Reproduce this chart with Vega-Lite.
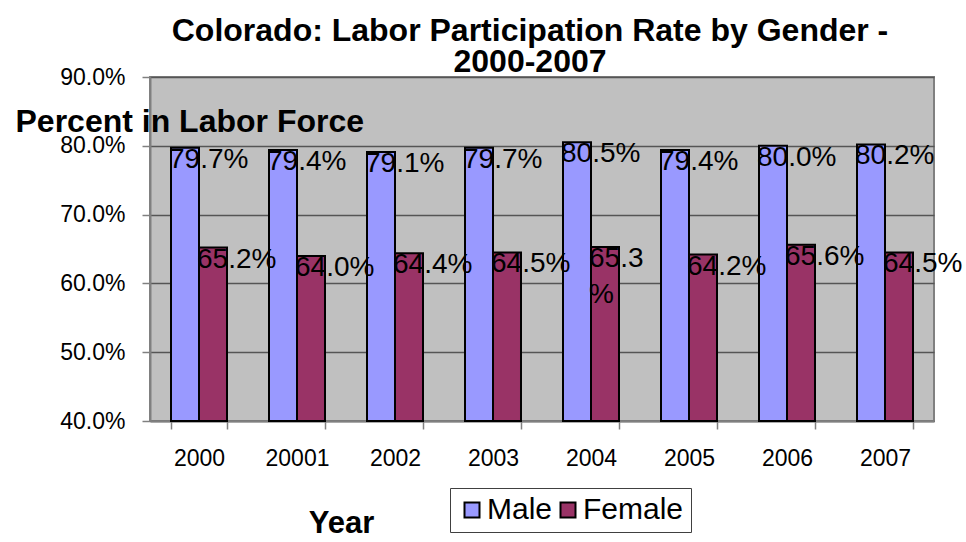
{
  "$schema": "https://vega.github.io/schema/vega-lite/v6.json",
  "autosize": {"type": "none"},
  "width": 784,
  "height": 344,
  "padding": {"left": 150, "top": 77, "right": 32, "bottom": 121},
  "background": "white",
  "title": {
    "text": ["Colorado:  Labor Participation Rate by Gender -", "2000-2007"],
    "font": "Liberation Sans",
    "fontSize": 32,
    "fontWeight": "bold",
    "color": "black",
    "anchor": "middle",
    "frame": "group",
    "dx": -12,
    "dy": 17,
    "offset": 4,
    "lineHeight": 31
  },
  "data": {
    "values": [
      {"year": "2000", "gender": "Male", "value": 0.797, "label": "79.7%"},
      {"year": "2000", "gender": "Female", "value": 0.652, "label": "65.2%"},
      {"year": "20001", "gender": "Male", "value": 0.794, "label": "79.4%"},
      {"year": "20001", "gender": "Female", "value": 0.640, "label": "64.0%"},
      {"year": "2002", "gender": "Male", "value": 0.791, "label": "79.1%"},
      {"year": "2002", "gender": "Female", "value": 0.644, "label": "64.4%"},
      {"year": "2003", "gender": "Male", "value": 0.797, "label": "79.7%"},
      {"year": "2003", "gender": "Female", "value": 0.645, "label": "64.5%"},
      {"year": "2004", "gender": "Male", "value": 0.805, "label": "80.5%"},
      {"year": "2004", "gender": "Female", "value": 0.653, "label": "65.3\n%"},
      {"year": "2005", "gender": "Male", "value": 0.794, "label": "79.4%"},
      {"year": "2005", "gender": "Female", "value": 0.642, "label": "64.2%"},
      {"year": "2006", "gender": "Male", "value": 0.800, "label": "80.0%"},
      {"year": "2006", "gender": "Female", "value": 0.656, "label": "65.6%"},
      {"year": "2007", "gender": "Male", "value": 0.802, "label": "80.2%"},
      {"year": "2007", "gender": "Female", "value": 0.645, "label": "64.5%"}
    ]
  },
  "config": {
    "font": "Liberation Sans",
    "view": {"fill": "#C0C0C0", "stroke": "#808080", "strokeWidth": 2}
  },
  "layer": [
    {
      "mark": {"type": "bar", "stroke": "black", "strokeWidth": 2},
      "encoding": {
        "x": {
          "field": "year", "type": "nominal", "sort": null,
          "scale": {"paddingInner": 0.4286, "paddingOuter": 0.2143},
          "axis": {
            "title": "Year", "labelAngle": 0, "tickBand": "extent",
            "tickSize": 8, "labelPadding": 18, "labelFontSize": 23, "labelColor": "black",
            "labelFont": "Liberation Sans",
            "titleFont": "Liberation Sans", "titleFontSize": 31, "titleFontWeight": "bold", "titleColor": "black",
            "titleX": 191, "titleY": 111, "titleAlign": "center", "titleBaseline": "alphabetic",
            "domainColor": "#808080", "domainWidth": 2, "tickColor": "#808080", "tickWidth": 1.5,
            "grid": false
          }
        },
        "xOffset": {
          "field": "gender", "type": "nominal", "sort": ["Male", "Female"],
          "scale": {"paddingInner": 0, "paddingOuter": 0}
        },
        "y": {
          "field": "value", "type": "quantitative",
          "scale": {"domain": [0.4, 0.9], "zero": false, "nice": false},
          "axis": {
            "title": "Percent in Labor Force",
            "values": [0.4, 0.5, 0.6, 0.7, 0.8, 0.9], "format": ".1%",
            "tickSize": 8, "labelPadding": 17, "labelFontSize": 23, "labelColor": "black",
            "labelFont": "Liberation Sans",
            "grid": true, "gridColor": "#555555", "gridWidth": 1.5,
            "titleAngle": 0, "titleAlign": "left", "titleBaseline": "alphabetic",
            "titleX": -135, "titleY": 54,
            "titleFont": "Liberation Sans", "titleFontSize": 32, "titleFontWeight": "bold", "titleColor": "black",
            "domainColor": "#808080", "domainWidth": 2, "tickColor": "#808080", "tickWidth": 1.5
          }
        },
        "y2": {"datum": 0.4},
        "color": {
          "field": "gender", "type": "nominal", "sort": ["Male", "Female"],
          "scale": {"domain": ["Male", "Female"], "range": ["#9999FF", "#993366"]},
          "legend": {
            "title": null, "orient": "none", "legendX": 300, "legendY": 411,
            "direction": "horizontal", "strokeColor": "#404040", "fillColor": "white",
            "padding": 7, "symbolType": "square", "symbolSize": 225,
            "symbolStrokeColor": "black", "symbolStrokeWidth": 2, "symbolOpacity": 1,
            "labelFontSize": 30, "labelFont": "Liberation Sans", "labelColor": "black",
            "labelOffset": 0, "columnPadding": -7
          }
        }
      }
    },
    {
      "mark": {
        "type": "text", "align": "left", "baseline": "alphabetic",
        "dx": -16, "dy": 20, "fontSize": 28, "font": "Liberation Sans",
        "lineBreak": "\n", "lineHeight": 36, "fill": "black"
      },
      "encoding": {
        "x": {"field": "year", "type": "nominal", "sort": null},
        "xOffset": {"field": "gender", "type": "nominal", "sort": ["Male", "Female"]},
        "y": {"field": "value", "type": "quantitative"},
        "text": {"field": "label"}
      }
    }
  ]
}
